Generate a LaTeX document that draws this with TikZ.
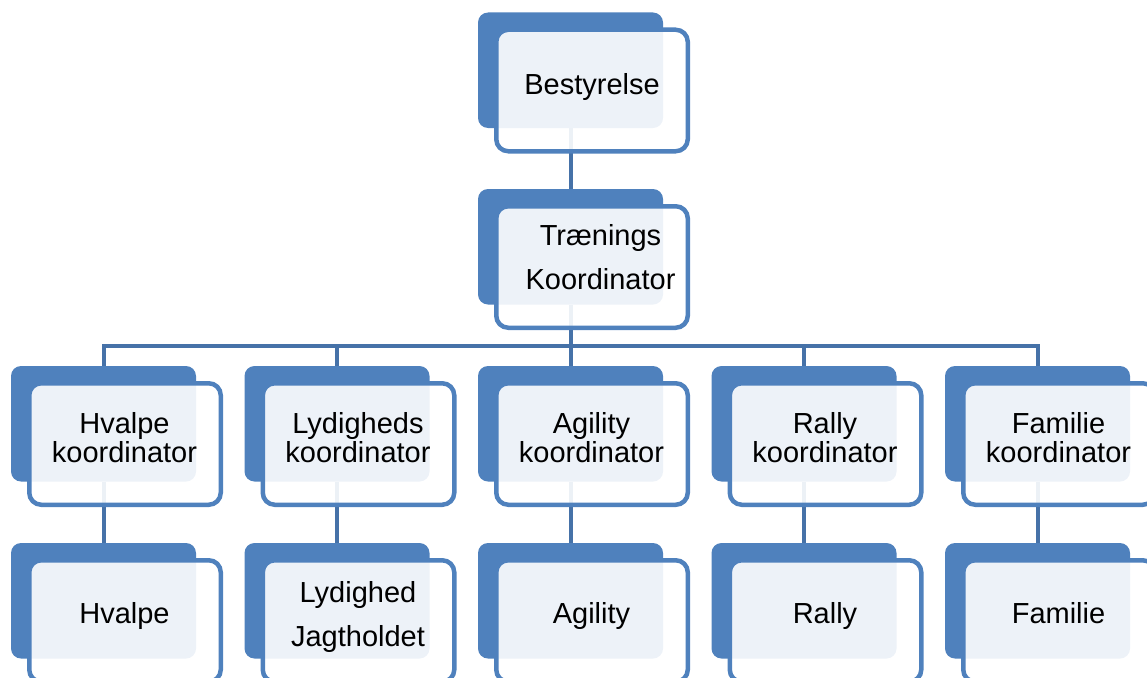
\documentclass[tikz,border=0pt]{standalone}
\usepackage{fontspec}
\setmainfont{Liberation Sans}
\definecolor{boxblue}{RGB}{79,129,189}
\definecolor{linkblue}{RGB}{70,114,168}
\pgfdeclarelayer{bg}
\pgfsetlayers{bg,main}
\tikzset{
  backbox/.style={fill=boxblue, draw=none, rounded corners=10pt, minimum width=185pt, minimum height=115.5pt, inner sep=0pt, outer sep=0pt},
  frontbox/.style={draw=boxblue, line width=4.5pt, fill=white, fill opacity=0.9, rounded corners=12pt, minimum width=191.5pt, minimum height=121.5pt, inner sep=0pt, outer sep=0pt},
  unitlabel/.style={font=\fontsize{29}{29}\selectfont, align=center, inner sep=0pt},
  widelabel/.style={font=\fontsize{29}{44}\selectfont, align=center, inner sep=0pt},
  link/.style={draw=linkblue, line width=4pt, line join=miter}
}
\newcommand{\orgunit}[7]{%
  \node[backbox] (b#1) at (#2,#3) {};
  \node[frontbox] (f#1) at ({#2+21.5},{#3+20.25}) {};
  \node[#7] (t#1) at ({#2+#4},{#3+#5}) {#6};
}
\begin{document}
\begin{tikzpicture}[x=1pt,y=-1pt]
\useasboundingbox (0,0) rectangle (1147,677);
\orgunit{1}{570.5}{70.25}{21.5}{17}{Bestyrelse}{unitlabel}
\orgunit{2}{570.5}{246.75}{30}{10}{Trænings\\Koordinator}{widelabel}
\orgunit{31}{103.5}{423.75}{21}{14}{Hvalpe\\koordinator}{unitlabel}
\orgunit{32}{337}{423.75}{21}{14}{Lydigheds\\koordinator}{unitlabel}
\orgunit{33}{570.5}{423.75}{21}{14}{Agility\\koordinator}{unitlabel}
\orgunit{34}{804}{423.75}{21}{14}{Rally\\koordinator}{unitlabel}
\orgunit{35}{1037.5}{423.75}{21}{14}{Familie\\koordinator}{unitlabel}
\orgunit{41}{103.5}{600.75}{21}{15}{Hvalpe}{unitlabel}
\orgunit{42}{337}{600.75}{21}{16}{Lydighed\\Jagtholdet}{widelabel}
\orgunit{43}{570.5}{600.75}{21}{15}{Agility}{unitlabel}
\orgunit{44}{804}{600.75}{21}{15}{Rally}{unitlabel}
\orgunit{45}{1037.5}{600.75}{21}{12}{Familie}{unitlabel}
\coordinate (bus) at (570.5,346);
\begin{pgfonlayer}{bg}
  \draw[link] (b1.south) -- (b2.north);
  \draw[link] (b2.south) -- (bus);
  \foreach \k in {1,...,5} {
    \draw[link] (bus) -| (b3\k.north);
    \draw[link] (b3\k.south) -- (b4\k.north);
  }
\end{pgfonlayer}
\end{tikzpicture}
\end{document}
